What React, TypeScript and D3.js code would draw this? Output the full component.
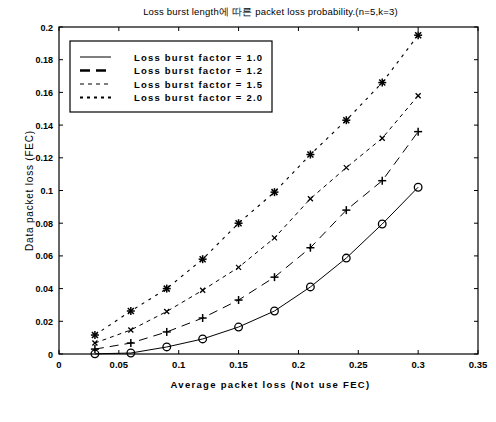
import React from "react";
import * as d3 from "d3";

const xValues = [0.03, 0.06, 0.09, 0.12, 0.15, 0.18, 0.21, 0.24, 0.27, 0.3];
const seriesF10 = [0.0001, 0.0006, 0.0043, 0.0092, 0.0165, 0.0263, 0.041, 0.0587, 0.0795, 0.102];
const seriesF12 = [0.003, 0.0067, 0.0135, 0.022, 0.033, 0.047, 0.065, 0.088, 0.106, 0.136];
const seriesF15 = [0.0067, 0.0147, 0.026, 0.039, 0.053, 0.071, 0.095, 0.114, 0.132, 0.158];
const seriesF20 = [0.0116, 0.0263, 0.04, 0.058, 0.08, 0.099, 0.122, 0.143, 0.166, 0.195];
const seriesNames = ["Loss burst factor = 1.0", "Loss burst factor = 1.2", "Loss burst factor = 1.5", "Loss burst factor = 2.0"];
const xTicks = [0, 0.05, 0.1, 0.15, 0.2, 0.25, 0.3, 0.35];
const yTicks = [0, 0.02, 0.04, 0.06, 0.08, 0.1, 0.12, 0.14, 0.16, 0.18, 0.2];
const titleText = "Loss burst length에 따른 packet loss probability.(n=5,k=3)";
const xLabel = "Average packet loss (Not use FEC)";
const yLabel = "Data packet loss (FEC)";

const W = 496, H = 422;
const L = 59, R = 478, T = 27, B = 354;
const FONT = "'Liberation Sans', Arial, sans-serif";

const styles = [
  { dash: "none", width: 1, marker: "o" },
  { dash: "9,6", width: 1, marker: "+" },
  { dash: "4,4", width: 1, marker: "x" },
  { dash: "3,5", width: 1.1, marker: "*" },
];
const legendDash = ["none", "10,6", "4,4", "3,4"];
const legendWidth = [1, 2.4, 1, 2];

function Marker({ type, x, y }: { type: string; x: number; y: number }) {
  const s = 4;
  if (type === "o") return <circle cx={x} cy={y} r={3.8} fill="none" stroke="#000" strokeWidth={1.3} />;
  if (type === "+")
    return (
      <g stroke="#000" strokeWidth={1.5}>
        <line x1={x - s} x2={x + s} y1={y} y2={y} />
        <line x1={x} x2={x} y1={y - s} y2={y + s} />
      </g>
    );
  if (type === "x")
    return (
      <g stroke="#000" strokeWidth={1.3}>
        <line x1={x - 2.5} x2={x + 2.5} y1={y - 2.5} y2={y + 2.5} />
        <line x1={x - 2.5} x2={x + 2.5} y1={y + 2.5} y2={y - 2.5} />
      </g>
    );
  return (
    <g stroke="#000" strokeWidth={1.5}>
      <line x1={x - s} x2={x + s} y1={y} y2={y} />
      <line x1={x} x2={x} y1={y - s} y2={y + s} />
      <line x1={x - 3} x2={x + 3} y1={y - 3} y2={y + 3} />
      <line x1={x - 3} x2={x + 3} y1={y + 3} y2={y - 3} />
    </g>
  );
}

export default function App() {
  const x = d3.scaleLinear().domain([0, 0.35]).range([L, R]);
  const y = d3.scaleLinear().domain([0, 0.2]).range([B, T]);
  const all = [seriesF10, seriesF12, seriesF15, seriesF20];
  const line = d3
    .line<number>()
    .x((_, i) => x(xValues[i]))
    .y((d) => y(d))
    .curve(d3.curveLinear);
  const fmt = (v: number) => String(+v.toFixed(2));
  return (
    <svg width={W} height={H} style={{ position: "absolute", left: 0, top: 0, background: "#fff" }} fontFamily={FONT}>
      <rect x={0} y={0} width={W} height={H} fill="#fff" />
      <text x={(L + R) / 2 + 2} y={15} textAnchor="middle" fontSize={9.5} letterSpacing={0.2}>{titleText}</text>
      <rect x={L} y={T} width={R - L} height={B - T} fill="none" stroke="#000" strokeWidth={1.2} />
      {xTicks.map((t) => (
        <g key={"x" + t}>
          <line x1={x(t)} x2={x(t)} y1={B} y2={B - 4} stroke="#000" />
          <line x1={x(t)} x2={x(t)} y1={T} y2={T + 4} stroke="#000" />
          <text x={x(t)} y={B + 14} textAnchor="middle" fontSize={9.5} fontWeight="bold">{fmt(t)}</text>
        </g>
      ))}
      {yTicks.map((t) => (
        <g key={"y" + t}>
          <line x1={L} x2={L + 4} y1={y(t)} y2={y(t)} stroke="#000" />
          <line x1={R} x2={R - 4} y1={y(t)} y2={y(t)} stroke="#000" />
          <text x={L - 6} y={y(t) + 3.5} textAnchor="end" fontSize={9} fontWeight="bold">{fmt(t)}</text>
        </g>
      ))}
      <text x={(L + R) / 2 + 2} y={388} textAnchor="middle" fontSize={9.5} fontWeight="bold" letterSpacing={1.3}>{xLabel}</text>
      <text transform={`translate(33,${(T + B) / 2}) rotate(-90)`} textAnchor="middle" fontSize={10} letterSpacing={0.8}>{yLabel}</text>
      {all.map((s, k) => (
        <g key={"s" + k}>
          <path d={line(s) || ""} fill="none" stroke="#000" strokeWidth={styles[k].width} strokeDasharray={styles[k].dash} />
          {s.map((v, i) => (
            <Marker key={i} type={styles[k].marker} x={x(xValues[i])} y={y(v)} />
          ))}
        </g>
      ))}
      <g>
        <rect x={70} y={41} width={202} height={71} fill="#fff" stroke="#000" strokeWidth={1.2} />
        {seriesNames.map((n, k) => {
          const yy = 57 + k * 13.5;
          return (
            <g key={"l" + k}>
              <line x1={80} x2={111} y1={yy} y2={yy} stroke="#000" strokeWidth={legendWidth[k]} strokeDasharray={legendDash[k]} />
              <text x={134} y={yy + 3.5} fontSize={9.5} fontWeight="bold" letterSpacing={1.2}>{n}</text>
            </g>
          );
        })}
      </g>
    </svg>
  );
}
